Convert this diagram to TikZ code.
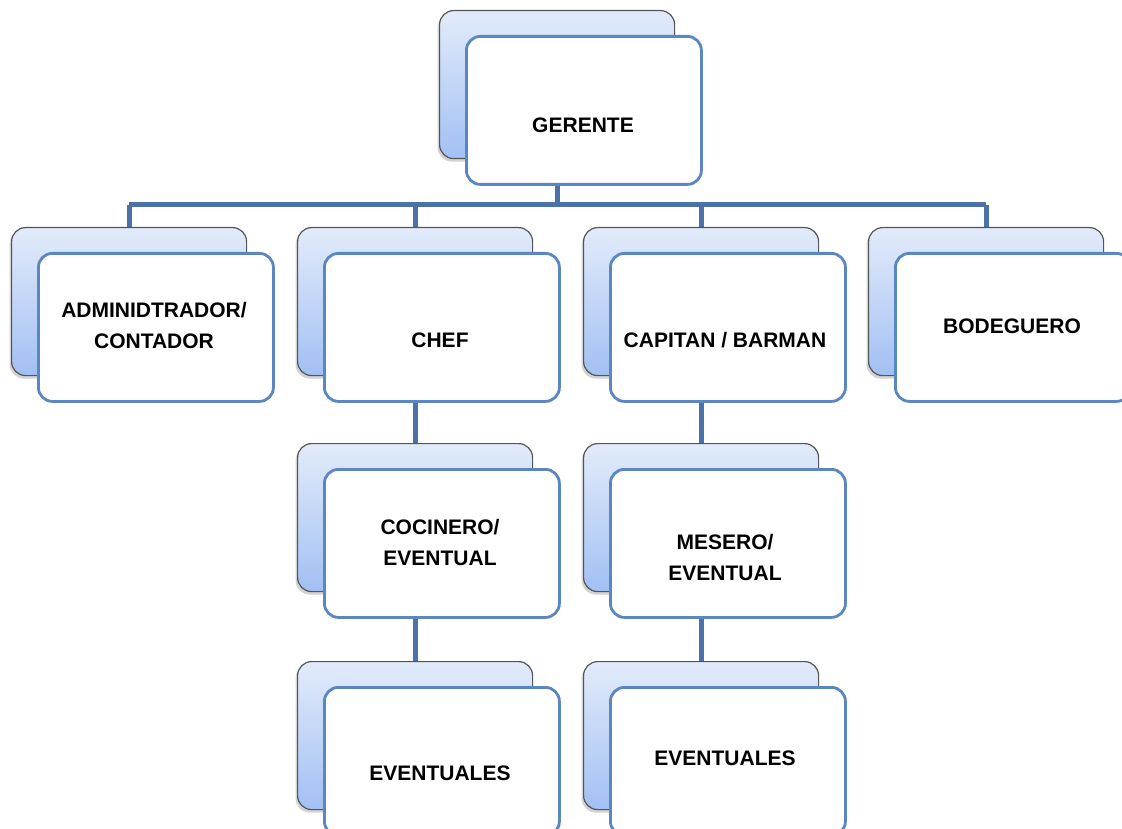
\documentclass[tikz,border=0pt]{standalone}
\usepackage{fontspec}
\setmainfont{Liberation Sans}
\usetikzlibrary{shadows,calc}
\definecolor{conncol}{HTML}{4A72A8}
\definecolor{frontcol}{HTML}{5A86C2}
\definecolor{backtop}{HTML}{E2EBFA}
\definecolor{backbot}{HTML}{A2C0F4}
\definecolor{backedge}{HTML}{555555}
\tikzset{
  backbox/.style={draw=backedge, line width=1.2pt, rounded corners=14pt,
    top color=backtop, bottom color=backbot, minimum width=235pt, minimum height=148pt,
    anchor=north west, inner sep=0pt,
    drop shadow={shadow xshift=-2pt, shadow yshift=-3pt, opacity=0.35}},
  frontbox/.style={draw=frontcol, line width=2.8pt, rounded corners=14pt,
    fill=white, minimum width=235pt, minimum height=148pt, anchor=north west, inner sep=0pt},
  lbl/.style={font=\fontsize{21}{31}\selectfont\bfseries, align=center, inner sep=0pt},
  conn/.style={draw=conncol, line width=5pt}
}
\begin{document}
\begin{tikzpicture}[x=1pt,y=-1pt]
\useasboundingbox (0,0) rectangle (1122,829);
\path
  (439,10) coordinate (gpos)
  (11,227) coordinate (apos)
  (297,227) coordinate (cpos)
  (583,227) coordinate (kpos)
  (868,227) coordinate (bpos)
  (297,443) coordinate (copos)
  (583,443) coordinate (mpos)
  (297,661) coordinate (e1pos)
  (583,661) coordinate (e2pos)
  (0,205) coordinate (bar);
% back boxes
\foreach \n in {g,a,c,k,b,co,m,e1,e2}{
  \node[backbox] (\n-b) at (\n pos) {};
}
% connectors
\draw[conn] (g-b.south) -- (g-b.south |- bar);
\draw[conn] (a-b.north |- bar) -- (b-b.north |- bar);
\draw[conn] (a-b.north |- bar) -- (a-b.north);
\draw[conn] (c-b.north |- bar) -- (c-b.north);
\draw[conn] (k-b.north |- bar) -- (k-b.north);
\draw[conn] (b-b.north |- bar) -- (b-b.north);
\draw[conn] (c-b.south) -- (co-b.north);
\draw[conn] (co-b.south) -- (e1-b.north);
\draw[conn] (k-b.south) -- (m-b.north);
\draw[conn] (m-b.south) -- (e2-b.north);
% front boxes
\foreach \n in {g,a,c,k,b,co,m,e1,e2}{
  \node[frontbox] (\n-f) at ($(\n pos)+(26,25)$) {};
}
% labels
\node[lbl] (t-g) at (583,125) {GERENTE};
\node[lbl] (t-a) at (154,325) {ADMINIDTRADOR/\\CONTADOR};
\node[lbl] (t-c) at (440,340) {CHEF};
\node[lbl] (t-k) at (725,340) {CAPITAN / BARMAN};
\node[lbl] (t-b) at (1012,326) {BODEGUERO};
\node[lbl] (t-co) at (440,542) {COCINERO/\\EVENTUAL};
\node[lbl] (t-m) at (725,557) {MESERO/\\EVENTUAL};
\node[lbl] (t-e1) at (440,773) {EVENTUALES};
\node[lbl] (t-e2) at (725,758) {EVENTUALES};
\end{tikzpicture}
\end{document}
